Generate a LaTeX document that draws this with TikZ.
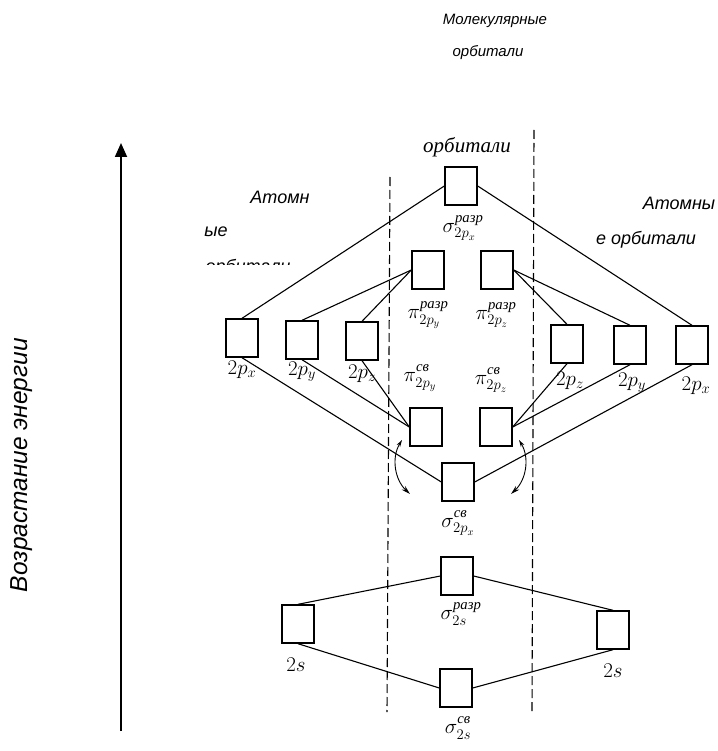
\RequirePackage{fix-cm}
\documentclass[tikz,border=0pt]{standalone}
\usepackage{fontspec}
\usepackage{amsmath}
\setmainfont{Liberation Sans}
\newfontfamily\scanfont{Liberation Serif}
\usetikzlibrary{arrows.meta}
\newcommand\molab[3]{$#1^{\text{\scanfont\itshape #2}\rule[-3pt]{0pt}{3pt}}_{#3}$}
\begin{document}
\begin{tikzpicture}[x=1pt,y=-1pt,
  orb/.style={draw, line width=1.4pt, minimum width=32pt, minimum height=38pt, inner sep=0pt},
  link/.style={line width=1.1pt},
  lbl/.style={inner sep=0pt, font=\fontsize{21}{23}\selectfont},
  captxt/.style={font=\fontsize{18}{21}\selectfont\itshape, inner sep=0pt},
  topcap/.style={font=\fontsize{15}{18}\selectfont\itshape, inner sep=0pt},
  divider/.style={line width=1.1pt, dash pattern=on 9pt off 4pt},
  swing/.style={line width=0.9pt, {Stealth[length=7pt,width=4pt]}-{Stealth[length=9pt,width=5pt]}}
]
\useasboundingbox (0,0) rectangle (717,751);

% captions
\node[topcap] (mo1) at (495,21) {Молекулярные};
\node[topcap] (mo2) at (488,53) {орбитали};
\node[captxt] (la1) at (280,197) {Атомн};
\node[captxt] (la2) at (216,232) {ые};
\begin{scope}
  \clip (190,240) rectangle (300,264);
  \node[captxt, anchor=base] (la3) at (248,272) {орбитали};
\end{scope}
\node[captxt] (ra1) at (679,203) {Атомны};
\node[captxt] (ra2) at (646,240) {е орбитали};
\node[font=\fontsize{24.5}{28}\selectfont\itshape, inner sep=0pt, rotate=90] (en) at (22,465) {Возрастание энергии};
\node[font=\fontsize{21}{24}\selectfont\scanfont\itshape, inner sep=0pt] (scanorb) at (467,147) {орбитали};

% energy arrow
\coordinate (eb) at (121,731);
\coordinate (et) at (121,143);
\draw[line width=1.8pt, -{Triangle[length=14pt,width=12pt]}] (eb) -- (et);

% dividers
\coordinate (d1t) at (390,177); \coordinate (d1b) at (387,712);
\coordinate (d2t) at (534,130); \coordinate (d2b) at (532,713);
\draw[divider] (d1t) -- (d1b);
\draw[divider] (d2t) -- (d2b);

% boxes
\node[orb] (sx2) at (461,186) {};
\node[orb] (py2) at (428,270) {};
\node[orb] (pz2) at (497,270) {};
\node[orb] (Lpx) at (242,338) {};
\node[orb] (Lpy) at (302,340) {};
\node[orb] (Lpz) at (362,341) {};
\node[orb] (Rpz) at (567,344) {};
\node[orb] (Rpy) at (630,345) {};
\node[orb] (Rpx) at (692,345) {};
\node[orb] (py1) at (426,427) {};
\node[orb] (pz1) at (496,427) {};
\node[orb] (sx1) at (458,482) {};
\node[orb] (ss2) at (457,576) {};
\node[orb] (Ls)  at (298,624) {};
\node[orb] (Rs)  at (613,630) {};
\node[orb] (ss1) at (456,688) {};

% labels
\node[lbl] (tsx2) at (463,228) {\molab{\sigma}{разр}{2p_x}};
\node[lbl] (tpy2) at (428,315) {\molab{\pi}{разр}{2p_y}};
\node[lbl] (tpz2) at (496,315) {\molab{\pi}{разр}{2p_z}};
\node[lbl] (tpy1) at (420,378) {\molab{\pi}{св}{2p_y}};
\node[lbl] (tpz1) at (491,380) {\molab{\pi}{св}{2p_z}};
\node[lbl] (tsx1) at (458,523) {\molab{\sigma}{св}{2p_x}};
\node[lbl] (tss2) at (461,614) {\molab{\sigma}{разр}{2s}};
\node[lbl] (tss1) at (458,728) {\molab{\sigma}{св}{2s}};
\node[lbl] (tLpx) at (242,370) {$2p_x$};
\node[lbl] (tLpy) at (302,372) {$2p_y$};
\node[lbl] (tLpz) at (362,374) {$2p_z$};
\node[lbl] (tRpz) at (570,381) {$2p_z$};
\node[lbl] (tRpy) at (632,383) {$2p_y$};
\node[lbl] (tRpx) at (696,386) {$2p_x$};
\node[lbl] (tLs)  at (296,665) {$2s$};
\node[lbl] (tRs)  at (613,671) {$2s$};

% connectors
\draw[link] (Lpx.north) -- (sx2.west);
\draw[link] (sx2.east) -- (Rpx.north);
\draw[link] (Lpy.north) -- (py2.west);
\draw[link] (Lpz.north) -- (py2.west);
\draw[link] (pz2.east) -- (Rpz.north);
\draw[link] (pz2.east) -- (Rpy.north);
\draw[link] (Lpy.south) -- (py1.west);
\draw[link] (Lpz.south) -- (py1.west);
\draw[link] (Rpz.south) -- (pz1.east);
\draw[link] (Rpy.south) -- (pz1.east);
\draw[link] (Lpx.south) -- (sx1.west);
\draw[link] (Rpx.south) -- (sx1.east);
\draw[link] (Ls.north) -- (ss2.west);
\draw[link] (Ls.south) -- (ss1.west);
\draw[link] (ss2.east) -- (Rs.north);
\draw[link] (ss1.east) -- (Rs.south);

% curved arrows
\coordinate (lw1) at (402,440); \coordinate (lw2) at (410,494);
\coordinate (rw1) at (519,440); \coordinate (rw2) at (511,494);
\draw[swing] (lw1) .. controls (391,458) and (395,480) .. (lw2);
\draw[swing] (rw1) .. controls (530,458) and (526,480) .. (rw2);
\end{tikzpicture}
\end{document}
